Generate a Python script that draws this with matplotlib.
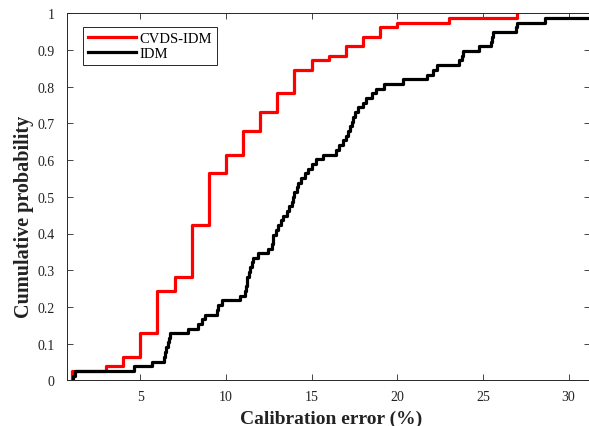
import numpy as np
import matplotlib
matplotlib.use('Agg')
import matplotlib.pyplot as plt
from matplotlib.ticker import FuncFormatter

# %% DATA

# CVDS-IDM: calibration error (%) where the ECDF steps, and the level reached
red_err = [1, 3, 4, 5, 6, 7, 8, 9, 10, 11, 12, 13, 14, 15, 16, 17, 18, 19, 20, 23, 27]
red_cdf = [0.026, 0.038, 0.064, 0.128, 0.244, 0.282, 0.423, 0.564, 0.615, 0.679,
           0.731, 0.782, 0.846, 0.872, 0.885, 0.910, 0.936, 0.962, 0.974, 0.987, 1.0]

# IDM
idm_err = [1.05, 1.2, 4.63, 5.66, 6.4, 6.47, 6.53, 6.6, 6.67, 6.75,
           7.8, 8.35, 8.58, 8.78, 9.46, 9.55, 9.75, 10.82, 11.1, 11.15,
           11.2, 11.25, 11.35, 11.4, 11.5, 11.6, 11.9, 12.47, 12.67, 12.72,
           12.76, 12.95, 13.05, 13.2, 13.35, 13.58, 13.7, 13.84, 13.93, 14.0,
           14.15, 14.22, 14.4, 14.6, 14.8, 15.0, 15.25, 15.68, 16.4, 16.6,
           16.85, 17.0, 17.1, 17.24, 17.34, 17.4, 17.53, 17.72, 18.0, 18.2,
           18.5, 18.75, 19.25, 20.35, 21.72, 22.1, 22.3, 23.62, 23.75, 23.85,
           24.79, 25.45, 25.55, 25.6, 26.93, 26.97, 28.62]
idm_cdf = [0.013, 0.026, 0.038, 0.051, 0.064, 0.077, 0.090, 0.103, 0.115, 0.128,
           0.141, 0.154, 0.167, 0.179, 0.192, 0.205, 0.218, 0.231, 0.244, 0.256,
           0.269, 0.282, 0.295, 0.308, 0.321, 0.333, 0.346, 0.359, 0.372, 0.385,
           0.397, 0.410, 0.423, 0.436, 0.449, 0.462, 0.474, 0.487, 0.500, 0.513,
           0.526, 0.538, 0.551, 0.564, 0.577, 0.590, 0.603, 0.615, 0.628, 0.641,
           0.654, 0.667, 0.679, 0.692, 0.705, 0.718, 0.731, 0.744, 0.756, 0.769,
           0.782, 0.795, 0.808, 0.821, 0.833, 0.846, 0.859, 0.872, 0.885, 0.897,
           0.910, 0.923, 0.936, 0.949, 0.962, 0.974, 0.987]

x_ticks = [5, 10, 15, 20, 25, 30]
y_ticks = [0, 0.1, 0.2, 0.3, 0.4, 0.5, 0.6, 0.7, 0.8, 0.9, 1]
x_lim = (0.74, 31.25)

# %% PLOT

plt.rcParams['font.family'] = ['Liberation Serif', 'DejaVu Serif']

W, H = 589, 427
fig = plt.figure(figsize=(W / 100, H / 100), dpi=100)
fig.set_facecolor('w')
L, R, T, B = 67.3, 590.0, 14.3, 381.3
ax = fig.add_axes([L / W, (H - B) / H, (R - L) / W, (B - T) / H])

ax.step(np.r_[red_err[0], red_err], np.r_[0, red_cdf], where='post',
        color='#ff0000', lw=2.3, label='CVDS-IDM')
ax.step(np.r_[idm_err[0], idm_err, 32], np.r_[0, idm_cdf, idm_cdf[-1]], where='post',
        color='k', lw=2.3, label='IDM')

ax.set_xlim(*x_lim)
ax.set_ylim(0, 1)
ax.set_xticks(x_ticks)
ax.set_yticks(y_ticks)
ax.yaxis.set_major_formatter(FuncFormatter(lambda v, p: '%g' % v))

spc = '#262626'
for s in ax.spines.values():
    s.set_color(spc)
    s.set_linewidth(0.7)
ax.tick_params(direction='in', length=4.5, width=0.6, colors=spc,
               top=True, right=True, labelsize=10, labelcolor='#222222')
ax.tick_params(axis='x', pad=7)
ax.tick_params(axis='y', pad=9)

ax.set_xlabel('Calibration error (%)', fontsize=14, fontweight='bold', color='#222222')
ax.set_ylabel('Cumulative probability', fontsize=14.5, fontweight='bold', color='#222222')
ax.xaxis.set_label_coords(0.505, -0.079)
ax.yaxis.set_label_coords(-0.064, 0.448)

leg = ax.legend(loc='upper left', bbox_to_anchor=(0.0295, 0.962), borderaxespad=0,
                fontsize=10.5, handlelength=3.3, handletextpad=0.25,
                labelspacing=0.1, borderpad=0.33, fancybox=False, framealpha=1)
leg.get_frame().set_edgecolor(spc)
leg.get_frame().set_linewidth(0.7)

fig.savefig('out.png', dpi=100)
